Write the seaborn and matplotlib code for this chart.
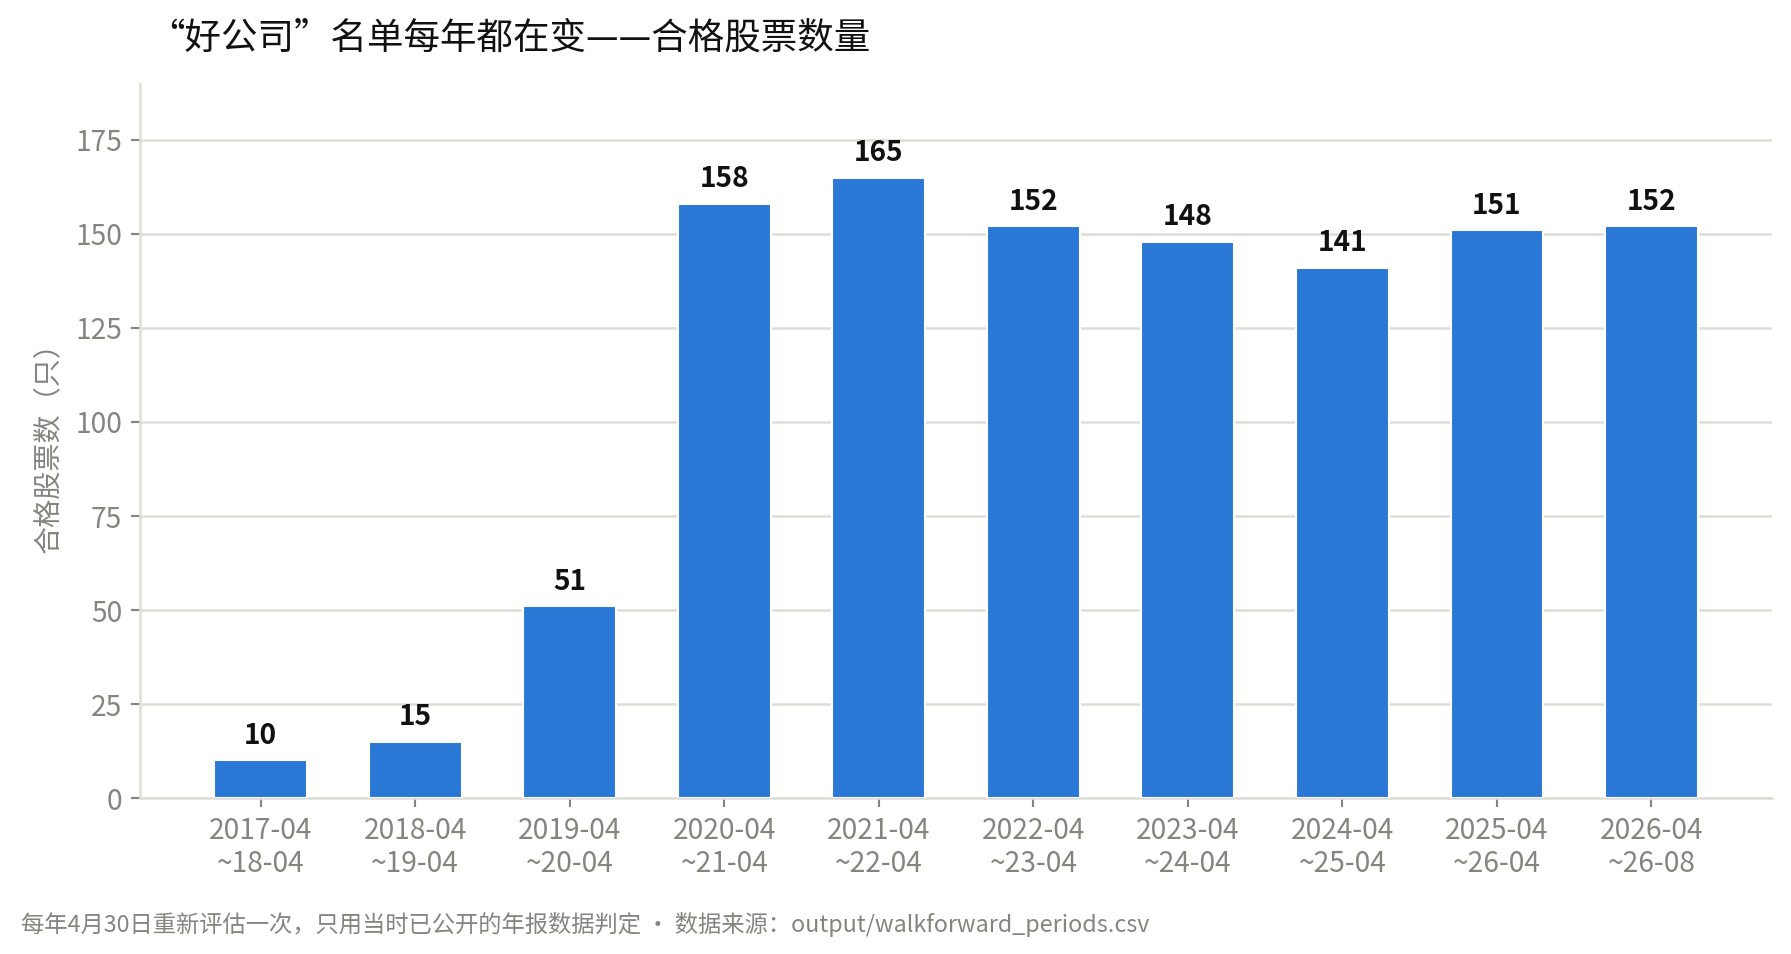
import seaborn as sns
import matplotlib.pyplot as plt
import pandas as pd

# walk-forward periods and number of qualifying stocks
periods = ['2017-04\n~18-04', '2018-04\n~19-04', '2019-04\n~20-04', '2020-04\n~21-04',
           '2021-04\n~22-04', '2022-04\n~23-04', '2023-04\n~24-04', '2024-04\n~25-04',
           '2025-04\n~26-04', '2026-04\n~26-08']
counts = [10, 15, 51, 158, 165, 152, 148, 141, 151, 152]
yticks = [0, 25, 50, 75, 100, 125, 150, 175]

title = '“好公司”名单每年都在变——合格股票数量'
ylabel = '合格股票数（只）'
footer = '每年4月30日重新评估一次，只用当时已公开的年报数据判定 · 数据来源：output/walkforward_periods.csv'

sns.set_theme(style='white')
plt.rcParams['font.family'] = ['Noto Sans CJK SC', 'DejaVu Sans']

bar_color = '#2a78d6'
grey = '#85857f'
line_grey = '#deded8'

df = pd.DataFrame({'period': periods, 'count': counts})

fig = plt.figure(figsize=(11.94, 6.36), dpi=150)
ax = fig.add_axes([0.0782, 0.1635, 0.9112, 0.7489])
sns.barplot(data=df, x='period', y='count', color=bar_color, saturation=1,
            width=0.6, ax=ax, zorder=3)

for i, v in enumerate(counts):
    ax.annotate(str(v), (i, v), xytext=(0, 5), textcoords='offset points',
                ha='center', va='bottom', fontsize=13.5, fontweight='bold',
                color='#111111')

ax.set_ylim(0, 190)
ax.set_xlim(-0.78, 9.78)
ax.set_yticks(yticks)
ax.yaxis.grid(True, color=line_grey, linewidth=1.2, zorder=0)
ax.set_axisbelow(True)
ax.set_xlabel('')
ax.set_ylabel(ylabel, fontsize=13.5, color=grey, labelpad=6)

for s in ['top', 'right']:
    ax.spines[s].set_visible(False)
for s in ['left', 'bottom']:
    ax.spines[s].set_color(line_grey)
    ax.spines[s].set_linewidth(1.2)

ax.tick_params(axis='both', colors=grey, labelsize=13.5, length=4.5, width=1,
               direction='out', bottom=True, left=True, pad=4)
for lab in ax.get_xticklabels():
    lab.set_linespacing(1.15)

fig.text(0.083, 0.96, title, fontsize=17.5, color='#111111', ha='left', va='center')
fig.text(0.0117, 0.0314, footer, fontsize=11.2, color=grey, ha='left', va='center')

plt.savefig('out.png', dpi=150)
